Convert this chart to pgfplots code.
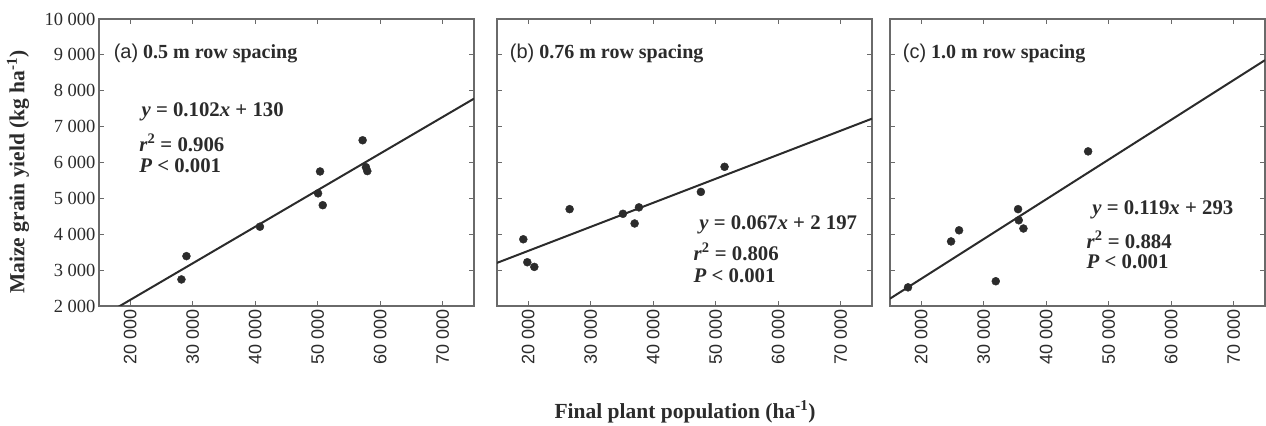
\documentclass[border=0pt]{standalone}
\usepackage{fontspec}
\setmainfont{Liberation Serif}
\setsansfont{Liberation Sans}
\usepackage{pgfplots}
\pgfplotsset{compat=1.18}
\definecolor{txt}{HTML}{2B2B2B}
\definecolor{frame}{HTML}{6A6A6A}
\pgfplotsset{
  panel/.style={
    scale only axis, width=375bp, height=287bp,
    anchor=south west,
    scaled ticks=false,
    xmin=15000, xmax=75000, ymin=2000, ymax=10000,
    xtick={20000,30000,40000,50000,60000,70000},
    xticklabels={20 000,30 000,40 000,50 000,60 000,70 000},
    ytick={2000,3000,4000,5000,6000,7000,8000,9000,10000},
    yticklabels={},
    x tick label style={font=\sffamily\fontsize{18bp}{18bp}\selectfont, rotate=90, anchor=east, text=txt},
    y tick label style={font=\fontsize{18.5bp}{18.5bp}\selectfont, text=txt},
    axis line style={frame, line width=1.2bp},
    major tick length=5bp,
    tick style={frame, line width=1bp},
    tick align=inside,
  },
  pts/.style={only marks, mark=*, mark size=4bp, txt, mark options={fill=txt, draw=txt}},
  fitl/.style={txt, line width=2bp, mark=none},
}
\tikzset{
  ttl/.style={anchor=west, text=txt, font=\fontsize{20bp}{20bp}\selectfont},
  eq/.style={anchor=west, text=txt, font=\bfseries\fontsize{20.8bp}{20.8bp}\selectfont},
}
\begin{document}
\begin{tikzpicture}
\useasboundingbox (0,0) rectangle (1266bp,426bp);
% panel (a)
\begin{axis}[panel, at={(99bp,120bp)},
  yticklabels={2 000,3 000,4 000,5 000,6 000,7 000,8 000,9 000,10 000}]
\addplot[fitl] coordinates {(15000,1660) (75000,7780)};
\addplot[pts] coordinates {
(28190,2740) (28990,3390) (40750,4210) (50050,5140) (50370,5750)
(50800,4810) (57180,6620) (57710,5870) (57930,5760)};
\node[ttl] at (rel axis cs:0.030,0.881) {{\sffamily (a)} \textbf{0.5 m row spacing}};
\node[eq] at (rel axis cs:0.104,0.676) {\textit{y} = 0.102\textit{x} + 130};
\node[eq] at (rel axis cs:0.098,0.568) {\textit{r}\textsuperscript{2} = 0.906};
\node[eq] at (rel axis cs:0.098,0.488) {\textit{P} < 0.001};
\end{axis}
% panel (b)
\begin{axis}[panel, at={(497bp,120bp)}]
\addplot[fitl] coordinates {(15000,3202) (75000,7222)};
\addplot[pts] coordinates {
(19210,3860) (19850,3220) (20970,3090) (26620,4700) (35150,4570)
(37020,4300) (37710,4750) (47620,5180) (51410,5880)};
\node[ttl] at (rel axis cs:0.025,0.881) {{\sffamily (b)} \textbf{0.76 m row spacing}};
\node[eq] at (rel axis cs:0.530,0.282) {\textit{y} = 0.067\textit{x} + 2 197};
\node[eq] at (rel axis cs:0.515,0.188) {\textit{r}\textsuperscript{2} = 0.806};
\node[eq] at (rel axis cs:0.515,0.105) {\textit{P} < 0.001};
\end{axis}
% panel (c)
\begin{axis}[panel, at={(890bp,120bp)}]
\addplot[fitl] coordinates {(15000,2205) (75000,8853)};
\addplot[pts] coordinates {
(17880,2520) (24770,3800) (26050,4110) (31920,2690) (35490,4700)
(35600,4390) (36350,4160) (46700,6310)};
\node[ttl] at (rel axis cs:0.025,0.881) {{\sffamily (c)} \textbf{1.0 m row spacing}};
\node[eq] at (rel axis cs:0.530,0.334) {\textit{y} = 0.119\textit{x} + 293};
\node[eq] at (rel axis cs:0.515,0.230) {\textit{r}\textsuperscript{2} = 0.884};
\node[eq] at (rel axis cs:0.515,0.153) {\textit{P} < 0.001};
\end{axis}
% axis titles
\node[rotate=90, text=txt, font=\bfseries\fontsize{21.5bp}{21.5bp}\selectfont] at (18bp,254bp) {Maize grain yield (kg ha\textsuperscript{-1})};
\node[text=txt, font=\bfseries\fontsize{21.5bp}{21.5bp}\selectfont] at (685bp,14bp) {Final plant population (ha\textsuperscript{-1})};
\end{tikzpicture}
\end{document}
